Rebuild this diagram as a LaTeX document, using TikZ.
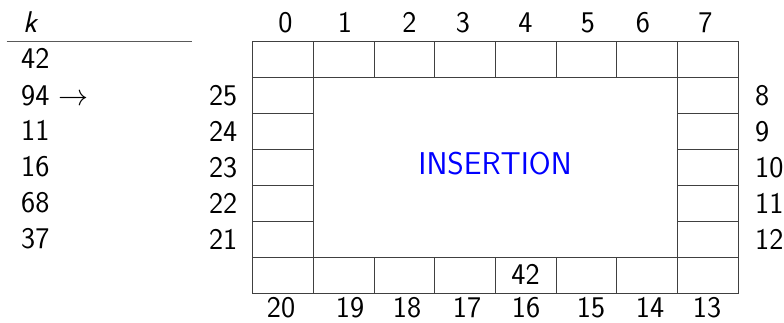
\RequirePackage{fix-cm}
\documentclass[tikz,border=0pt]{standalone}
\usepackage{fontspec}
\renewcommand\familydefault{\sfdefault}
\begin{document}
\begin{tikzpicture}[x=1pt,y=-1pt,
  every node/.style={font=\fontsize{30}{35}\selectfont},
  cell/.style={draw=black!75, line width=0.9pt, minimum width=60.7pt, minimum height=36pt, inner sep=0pt, outer sep=0pt, anchor=north west},
  lbl/.style={inner sep=0pt},
  rule/.style={draw=black!65, line width=1.1pt}]
\useasboundingbox (0,0) rectangle (784,322);
% top row
\foreach \i in {0,...,7}
  \node[cell] (c\i) at ({252.7+60.7*\i},41.7) {};
% right column
\foreach \r in {1,...,5}{
  \pgfmathtruncatemacro\k{7+\r}
  \node[cell] (c\k) at ({252.7+60.7*7},{41.7+36*\r}) {};
}
% bottom row
\foreach \i in {13,...,20}{
  \pgfmathtruncatemacro\cc{20-\i}
  \node[cell] (c\i) at ({252.7+60.7*\cc},{41.7+36*6}) {};
}
% left column
\foreach \r in {1,...,5}{
  \pgfmathtruncatemacro\k{26-\r}
  \node[cell] (c\k) at (252.7,{41.7+36*\r}) {};
}
\node[lbl, anchor=base] (v16) at (525.5,284) {42};
% index labels
\foreach \n/\x in {0/285.5,1/345,2/409.5,3/463,4/525.5,5/588,6/643,7/705.5}
  \node[lbl, anchor=base] (t\n) at (\x,32) {\n};
\foreach \n/\x in {20/281,19/350,18/407,17/467,16/526,15/591,14/650,13/707}
  \node[lbl, anchor=base] (b\n) at (\x,317.5) {\n};
\foreach \n/\y in {25/105.5,24/141.5,23/177.5,22/213.5,21/249.5}
  \node[lbl, anchor=base east] (l\n) at (237.5,\y) {\n};
\foreach \n/\y in {8/105.5,9/141.5,10/177.5,11/213.5,12/249.5}
  \node[lbl, anchor=base west] (r\n) at (755,\y) {\n};
% key column
\node[lbl, anchor=base west] (khead) at (23,32) {\textit{k}};
\coordinate (ruleL) at (6.7,41.7);
\coordinate (ruleR) at (192.3,41.7);
\draw[rule] (ruleL) -- (ruleR);
\node[lbl, anchor=base west] (k1) at (21,68.5) {42};
\node[lbl, anchor=base west] (k2) at (21,105) {94 $\rightarrow$};
\node[lbl, anchor=base west] (k3) at (21,140.5) {11};
\node[lbl, anchor=base west] (k4) at (21,176.5) {16};
\node[lbl, anchor=base west] (k5) at (21,212.5) {68};
\node[lbl, anchor=base west] (k6) at (21,248.5) {37};
% centre text
\node[lbl, text=blue, font=\fontsize{31.5}{37}\selectfont] (ins) at (495,164) {INSERTION};
\end{tikzpicture}
\end{document}
